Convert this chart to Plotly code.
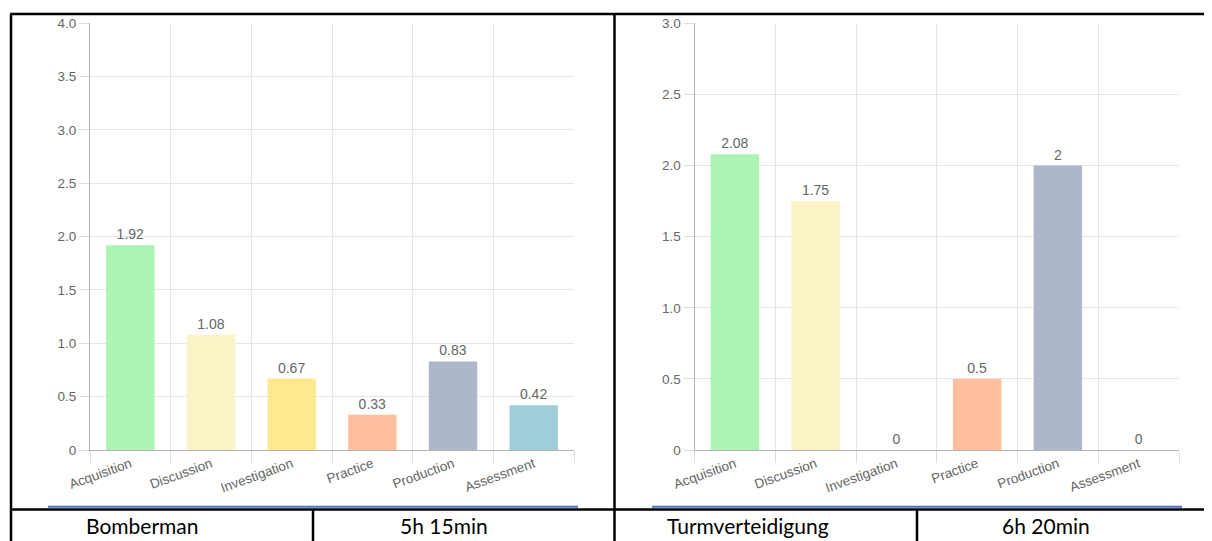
import plotly.graph_objects as go

categories = ["Acquisition", "Discussion", "Investigation", "Practice", "Production", "Assessment"]
bomberman_values = [1.92, 1.08, 0.67, 0.33, 0.83, 0.42]
turm_values = [2.08, 1.75, 0, 0.5, 2, 0]
bar_colors = ["#abf4b3", "#faf3c6", "#fee98f", "#ffbe9c", "#aeb7c9", "#9fced9"]
left_ticks = [0, 0.5, 1.0, 1.5, 2.0, 2.5, 3.0, 3.5, 4.0]
left_ticktext = ["0", "0.5", "1.0", "1.5", "2.0", "2.5", "3.0", "3.5", "4.0"]
right_ticks = [0, 0.5, 1.0, 1.5, 2.0, 2.5, 3.0]
right_ticktext = ["0", "0.5", "1.0", "1.5", "2.0", "2.5", "3.0"]
left_labels = ["1.92", "1.08", "0.67", "0.33", "0.83", "0.42"]
right_labels = ["2.08", "1.75", "0", "0.5", "2", "0"]
footer_texts = ["Bomberman", "5h 15min", "Turmverteidigung", "6h 20min"]

# page body has an 8px margin; the figure is placed at (8, 8) in the window
OFF = 8
W, H = 1212 - OFF, 541 - OFF


def px(x):
    return (x - OFF) / W


def py(y):
    return (H - (y - OFF)) / H


fig = go.Figure()
fig.add_trace(go.Bar(x=categories, y=bomberman_values, marker_color=bar_colors,
                     marker_line_width=0, text=left_labels, textposition="outside",
                     textfont=dict(color="#666666", size=14, family="Liberation Sans"),
                     cliponaxis=False, xaxis="x", yaxis="y", hoverinfo="skip"))
fig.add_trace(go.Bar(x=categories, y=turm_values, marker_color=bar_colors,
                     marker_line_width=0, text=right_labels, textposition="outside",
                     textfont=dict(color="#666666", size=14, family="Liberation Sans"),
                     cliponaxis=False, xaxis="x2", yaxis="y2", hoverinfo="skip"))

ydom = [py(450), py(23.3)]
common_x = dict(type="category", tickson="boundaries", ticks="outside", ticklen=12,
                tickcolor="#dddddd", showgrid=True, gridcolor="#e6e6e6", gridwidth=1,
                showline=True, linecolor="#b3b3b3", linewidth=1, tickangle=-20,
                tickfont=dict(color="#666666", size=13.5, family="Liberation Sans"),
                fixedrange=True, automargin=False)
common_y = dict(ticks="outside", ticklen=10, tickcolor="#dddddd", showgrid=True,
                gridcolor="#e6e6e6", gridwidth=1, showline=True, linecolor="#b3b3b3",
                linewidth=1, zeroline=False,
                tickfont=dict(color="#666666", size=13.5, family="Liberation Sans"),
                fixedrange=True, automargin=False)

fig.update_layout(
    width=W, height=H,
    margin=dict(l=0, r=0, t=0, b=0, pad=0, autoexpand=False),
    paper_bgcolor="white", plot_bgcolor="white",
    showlegend=False, bargap=0.4,
    xaxis=dict(domain=[px(90), px(574)], anchor="y", **common_x),
    yaxis=dict(domain=ydom, anchor="x", range=[0, 4], tickvals=left_ticks,
               ticktext=left_ticktext, **common_y),
    xaxis2=dict(domain=[px(694.5), px(1179)], anchor="y2", **common_x),
    yaxis2=dict(domain=ydom, anchor="x2", range=[0, 3], tickvals=right_ticks,
                ticktext=right_ticktext, **common_y),
)

shapes = []
black = dict(color="black", width=2.5)
# table borders
shapes.append(dict(type="line", xref="paper", yref="paper", x0=px(10), x1=px(1215), y0=py(14), y1=py(14), line=black))
shapes.append(dict(type="line", xref="paper", yref="paper", x0=px(11), x1=px(11), y0=py(14), y1=py(545), line=black))
shapes.append(dict(type="line", xref="paper", yref="paper", x0=px(614.5), x1=px(614.5), y0=py(14), y1=py(545), line=black))
shapes.append(dict(type="line", xref="paper", yref="paper", x0=px(10), x1=px(1215), y0=py(509.5), y1=py(509.5), line=black))
shapes.append(dict(type="line", xref="paper", yref="paper", x0=px(313), x1=px(313), y0=py(509.5), y1=py(545), line=black))
shapes.append(dict(type="line", xref="paper", yref="paper", x0=px(917), x1=px(917), y0=py(509.5), y1=py(545), line=black))
# blue underline
blue = dict(color="#4472c4", width=2)
shapes.append(dict(type="line", xref="paper", yref="paper", x0=px(48), x1=px(578), y0=py(506.7), y1=py(506.7), line=blue))
shapes.append(dict(type="line", xref="paper", yref="paper", x0=px(652), x1=px(1182), y0=py(506.7), y1=py(506.7), line=blue))
fig.update_layout(shapes=shapes)

footer_x = [142, 444, 748, 1046]
for t, xc in zip(footer_texts, footer_x):
    fig.add_annotation(text=t, x=px(xc), y=py(525), xref="paper", yref="paper",
                       xanchor="center", yanchor="middle", showarrow=False,
                       font=dict(family="Lato", size=21, color="black"))

fig.write_html("out.html")
